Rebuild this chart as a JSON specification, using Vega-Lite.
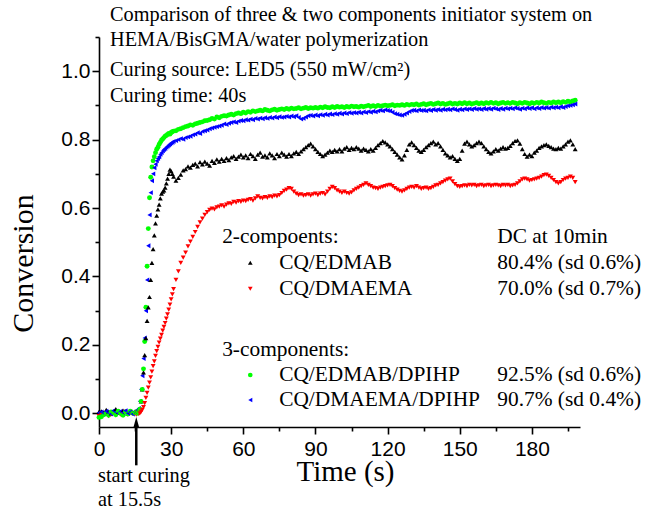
{
"$schema": "https://vega.github.io/schema/vega-lite/v6.json",
"width": 481, "height": 390,
"autosize": {"type": "none"},
"padding": {"left": 99, "top": 37, "right": 68, "bottom": 89},
"background": "white",
"config": {"view": {"stroke": null}, "axis": {"grid": false}},
"resolve": {"axis": {"x": "independent", "y": "independent"}},
"datasets": {
"conv": [
{"t":0,"a":0.004,"b":-0.008,"c":-0.012,"d":0.002},
{"t":1,"a":0.006,"b":-0.004,"c":-0.010,"d":0.004},
{"t":2,"a":0.002,"b":-0.006,"c":-0.004,"d":0.000},
{"t":3,"a":0.010,"b":-0.002,"c":0.000,"d":0.006},
{"t":4,"a":0.004,"b":-0.008,"c":-0.006,"d":0.002},
{"t":5,"a":0.000,"b":-0.004,"c":0.004,"d":-0.002},
{"t":6,"a":0.006,"b":0.000,"c":0.002,"d":0.008},
{"t":7,"a":0.012,"b":-0.006,"c":-0.004,"d":0.004},
{"t":8,"a":0.004,"b":0.002,"c":0.006,"d":0.000},
{"t":9,"a":0.002,"b":-0.004,"c":0.000,"d":0.006},
{"t":10,"a":0.008,"b":-0.002,"c":-0.006,"d":0.002},
{"t":11,"a":0.004,"b":0.004,"c":0.004,"d":0.008},
{"t":12,"a":0.000,"b":-0.004,"c":-0.002,"d":0.000},
{"t":13,"a":0.006,"b":0.002,"c":0.006,"d":0.004},
{"t":14,"a":0.002,"b":-0.002,"c":0.000,"d":-0.002},
{"t":15,"a":0.006,"b":0.000,"c":0.002,"d":0.006},
{"t":15.5,"a":0.004,"b":-0.004,"c":0.004,"d":0.002},
{"t":16,"a":0.008,"b":0.002,"c":0.000,"d":0.008},
{"t":16.5,"a":0.006,"b":-0.002,"c":0.004,"d":0.014},
{"t":17,"a":0.012,"b":0.000,"c":0.012,"d":0.035},
{"t":17.5,"a":0.035,"b":0.004,"c":0.035,"d":0.07},
{"t":18,"a":0.07,"b":0.01,"c":0.07,"d":0.11},
{"t":18.5,"a":0.12,"b":0.018,"c":0.13,"d":0.16},
{"t":19,"a":0.17,"b":0.03,"c":0.21,"d":0.22},
{"t":19.5,"a":0.22,"b":0.045,"c":0.31,"d":0.30},
{"t":20,"a":0.27,"b":0.06,"c":0.43,"d":0.39},
{"t":20.5,"a":0.31,"b":0.075,"c":0.54,"d":0.49},
{"t":21,"a":0.34,"b":0.09,"c":0.63,"d":0.58},
{"t":21.5,"a":0.39,"b":0.105,"c":0.69,"d":0.645},
{"t":22,"a":0.44,"b":0.122,"c":0.72,"d":0.68},
{"t":22.5,"a":0.48,"b":0.138,"c":0.738,"d":0.70},
{"t":23,"a":0.52,"b":0.152,"c":0.75,"d":0.718},
{"t":23.5,"a":0.555,"b":0.168,"c":0.762,"d":0.728},
{"t":24,"a":0.578,"b":0.182,"c":0.772,"d":0.738},
{"t":24.5,"a":0.596,"b":0.194,"c":0.778,"d":0.745},
{"t":25,"a":0.61,"b":0.207,"c":0.786,"d":0.75},
{"t":25.5,"a":0.628,"b":0.218,"c":0.792,"d":0.757},
{"t":26,"a":0.642,"b":0.229,"c":0.798,"d":0.762},
{"t":26.5,"a":0.648,"b":0.242,"c":0.802,"d":0.767},
{"t":27,"a":0.652,"b":0.253,"c":0.806,"d":0.771},
{"t":27.5,"a":0.66,"b":0.264,"c":0.81,"d":0.774},
{"t":28,"a":0.672,"b":0.277,"c":0.812,"d":0.778},
{"t":28.5,"a":0.686,"b":0.289,"c":0.815,"d":0.781},
{"t":29,"a":0.70,"b":0.303,"c":0.818,"d":0.784},
{"t":29.5,"a":0.712,"b":0.318,"c":0.816,"d":0.787},
{"t":30,"a":0.708,"b":0.333,"c":0.821,"d":0.79},
{"t":30.5,"a":0.70,"b":0.348,"c":0.823,"d":0.792},
{"t":31,"a":0.692,"b":0.363,"c":0.825,"d":0.795},
{"t":32,"a":0.68,"b":0.39,"c":0.826,"d":0.797},
{"t":33,"a":0.688,"b":0.415,"c":0.83,"d":0.80},
{"t":34,"a":0.698,"b":0.44,"c":0.832,"d":0.803},
{"t":35,"a":0.71,"b":0.455,"c":0.835,"d":0.801},
{"t":36,"a":0.714,"b":0.47,"c":0.838,"d":0.806},
{"t":37,"a":0.722,"b":0.488,"c":0.84,"d":0.808},
{"t":38,"a":0.718,"b":0.502,"c":0.843,"d":0.81},
{"t":39,"a":0.726,"b":0.516,"c":0.842,"d":0.814},
{"t":40,"a":0.73,"b":0.53,"c":0.846,"d":0.816},
{"t":41,"a":0.722,"b":0.545,"c":0.848,"d":0.82},
{"t":42,"a":0.734,"b":0.558,"c":0.85,"d":0.818},
{"t":43,"a":0.728,"b":0.569,"c":0.852,"d":0.824},
{"t":44,"a":0.736,"b":0.58,"c":0.855,"d":0.826},
{"t":45,"a":0.73,"b":0.588,"c":0.856,"d":0.828},
{"t":46,"a":0.724,"b":0.595,"c":0.858,"d":0.832},
{"t":47,"a":0.738,"b":0.598,"c":0.862,"d":0.834},
{"t":48,"a":0.732,"b":0.596,"c":0.86,"d":0.836},
{"t":49,"a":0.742,"b":0.602,"c":0.866,"d":0.838},
{"t":50,"a":0.736,"b":0.604,"c":0.864,"d":0.84},
{"t":51,"a":0.744,"b":0.608,"c":0.868,"d":0.842},
{"t":52,"a":0.738,"b":0.604,"c":0.87,"d":0.846},
{"t":53,"a":0.746,"b":0.61,"c":0.869,"d":0.844},
{"t":54,"a":0.74,"b":0.614,"c":0.872,"d":0.848},
{"t":55,"a":0.748,"b":0.612,"c":0.874,"d":0.85},
{"t":56,"a":0.752,"b":0.618,"c":0.872,"d":0.852},
{"t":57,"a":0.744,"b":0.616,"c":0.876,"d":0.85},
{"t":58,"a":0.75,"b":0.62,"c":0.878,"d":0.854},
{"t":59,"a":0.756,"b":0.618,"c":0.876,"d":0.856},
{"t":60,"a":0.748,"b":0.622,"c":0.88,"d":0.855},
{"t":61,"a":0.754,"b":0.62,"c":0.878,"d":0.858},
{"t":62,"a":0.746,"b":0.624,"c":0.882,"d":0.857},
{"t":63,"a":0.758,"b":0.626,"c":0.88,"d":0.86},
{"t":64,"a":0.752,"b":0.622,"c":0.884,"d":0.858},
{"t":65,"a":0.744,"b":0.628,"c":0.882,"d":0.862},
{"t":66,"a":0.756,"b":0.634,"c":0.884,"d":0.86},
{"t":67,"a":0.762,"b":0.63,"c":0.886,"d":0.863},
{"t":68,"a":0.75,"b":0.628,"c":0.884,"d":0.861},
{"t":69,"a":0.754,"b":0.632,"c":0.888,"d":0.864},
{"t":70,"a":0.748,"b":0.63,"c":0.886,"d":0.862},
{"t":71,"a":0.76,"b":0.634,"c":0.884,"d":0.865},
{"t":72,"a":0.754,"b":0.632,"c":0.887,"d":0.863},
{"t":73,"a":0.746,"b":0.636,"c":0.889,"d":0.866},
{"t":74,"a":0.758,"b":0.634,"c":0.886,"d":0.864},
{"t":75,"a":0.752,"b":0.638,"c":0.888,"d":0.867},
{"t":76,"a":0.762,"b":0.644,"c":0.89,"d":0.865},
{"t":77,"a":0.756,"b":0.65,"c":0.888,"d":0.866},
{"t":78,"a":0.75,"b":0.654,"c":0.891,"d":0.868},
{"t":79,"a":0.758,"b":0.658,"c":0.889,"d":0.866},
{"t":80,"a":0.752,"b":0.656,"c":0.892,"d":0.869},
{"t":81,"a":0.76,"b":0.648,"c":0.89,"d":0.867},
{"t":82,"a":0.764,"b":0.642,"c":0.891,"d":0.87},
{"t":83,"a":0.758,"b":0.638,"c":0.893,"d":0.865},
{"t":84,"a":0.766,"b":0.64,"c":0.89,"d":0.86},
{"t":85,"a":0.772,"b":0.636,"c":0.892,"d":0.862},
{"t":86,"a":0.778,"b":0.638,"c":0.894,"d":0.866},
{"t":87,"a":0.784,"b":0.64,"c":0.891,"d":0.87},
{"t":88,"a":0.788,"b":0.636,"c":0.893,"d":0.871},
{"t":89,"a":0.78,"b":0.64,"c":0.892,"d":0.869},
{"t":90,"a":0.772,"b":0.642,"c":0.894,"d":0.872},
{"t":91,"a":0.764,"b":0.638,"c":0.892,"d":0.87},
{"t":92,"a":0.758,"b":0.642,"c":0.895,"d":0.873},
{"t":93,"a":0.752,"b":0.644,"c":0.893,"d":0.871},
{"t":94,"a":0.756,"b":0.64,"c":0.896,"d":0.874},
{"t":95,"a":0.762,"b":0.648,"c":0.894,"d":0.872},
{"t":96,"a":0.768,"b":0.656,"c":0.893,"d":0.875},
{"t":97,"a":0.764,"b":0.662,"c":0.896,"d":0.873},
{"t":98,"a":0.77,"b":0.658,"c":0.894,"d":0.876},
{"t":99,"a":0.766,"b":0.652,"c":0.897,"d":0.874},
{"t":100,"a":0.772,"b":0.648,"c":0.895,"d":0.877},
{"t":101,"a":0.766,"b":0.644,"c":0.896,"d":0.875},
{"t":102,"a":0.774,"b":0.648,"c":0.894,"d":0.878},
{"t":103,"a":0.778,"b":0.644,"c":0.897,"d":0.876},
{"t":104,"a":0.77,"b":0.642,"c":0.895,"d":0.879},
{"t":105,"a":0.776,"b":0.646,"c":0.898,"d":0.877},
{"t":106,"a":0.772,"b":0.652,"c":0.896,"d":0.879},
{"t":107,"a":0.778,"b":0.656,"c":0.897,"d":0.878},
{"t":108,"a":0.774,"b":0.66,"c":0.895,"d":0.88},
{"t":109,"a":0.768,"b":0.664,"c":0.898,"d":0.878},
{"t":110,"a":0.774,"b":0.668,"c":0.896,"d":0.881},
{"t":111,"a":0.77,"b":0.672,"c":0.898,"d":0.879},
{"t":112,"a":0.766,"b":0.668,"c":0.9,"d":0.882},
{"t":113,"a":0.772,"b":0.664,"c":0.897,"d":0.88},
{"t":114,"a":0.768,"b":0.66,"c":0.899,"d":0.883},
{"t":115,"a":0.776,"b":0.658,"c":0.897,"d":0.881},
{"t":116,"a":0.784,"b":0.656,"c":0.9,"d":0.884},
{"t":117,"a":0.79,"b":0.66,"c":0.898,"d":0.886},
{"t":118,"a":0.796,"b":0.662,"c":0.899,"d":0.884},
{"t":119,"a":0.792,"b":0.664,"c":0.901,"d":0.887},
{"t":120,"a":0.786,"b":0.666,"c":0.899,"d":0.885},
{"t":121,"a":0.78,"b":0.668,"c":0.9,"d":0.884},
{"t":122,"a":0.772,"b":0.664,"c":0.902,"d":0.88},
{"t":123,"a":0.764,"b":0.658,"c":0.899,"d":0.876},
{"t":124,"a":0.756,"b":0.654,"c":0.901,"d":0.874},
{"t":125,"a":0.748,"b":0.65,"c":0.9,"d":0.872},
{"t":126,"a":0.742,"b":0.648,"c":0.902,"d":0.871},
{"t":127,"a":0.754,"b":0.652,"c":0.9,"d":0.874},
{"t":128,"a":0.77,"b":0.656,"c":0.903,"d":0.878},
{"t":129,"a":0.786,"b":0.66,"c":0.901,"d":0.882},
{"t":130,"a":0.792,"b":0.662,"c":0.903,"d":0.885},
{"t":131,"a":0.784,"b":0.66,"c":0.902,"d":0.886},
{"t":132,"a":0.776,"b":0.664,"c":0.904,"d":0.884},
{"t":133,"a":0.768,"b":0.66,"c":0.901,"d":0.887},
{"t":134,"a":0.764,"b":0.656,"c":0.903,"d":0.885},
{"t":135,"a":0.77,"b":0.658,"c":0.905,"d":0.886},
{"t":136,"a":0.778,"b":0.66,"c":0.902,"d":0.884},
{"t":137,"a":0.784,"b":0.656,"c":0.904,"d":0.887},
{"t":138,"a":0.79,"b":0.658,"c":0.906,"d":0.885},
{"t":139,"a":0.794,"b":0.662,"c":0.903,"d":0.888},
{"t":140,"a":0.786,"b":0.666,"c":0.905,"d":0.886},
{"t":141,"a":0.79,"b":0.668,"c":0.907,"d":0.888},
{"t":142,"a":0.78,"b":0.672,"c":0.904,"d":0.886},
{"t":143,"a":0.77,"b":0.676,"c":0.906,"d":0.889},
{"t":144,"a":0.76,"b":0.68,"c":0.903,"d":0.887},
{"t":145,"a":0.754,"b":0.684,"c":0.905,"d":0.889},
{"t":146,"a":0.748,"b":0.686,"c":0.907,"d":0.887},
{"t":147,"a":0.752,"b":0.678,"c":0.904,"d":0.89},
{"t":148,"a":0.744,"b":0.67,"c":0.906,"d":0.888},
{"t":149,"a":0.738,"b":0.664,"c":0.904,"d":0.886},
{"t":150,"a":0.744,"b":0.662,"c":0.907,"d":0.889},
{"t":151,"a":0.768,"b":0.664,"c":0.905,"d":0.887},
{"t":152,"a":0.788,"b":0.666,"c":0.908,"d":0.89},
{"t":153,"a":0.794,"b":0.664,"c":0.905,"d":0.888},
{"t":154,"a":0.786,"b":0.668,"c":0.907,"d":0.89},
{"t":155,"a":0.78,"b":0.666,"c":0.904,"d":0.888},
{"t":156,"a":0.784,"b":0.668,"c":0.906,"d":0.891},
{"t":157,"a":0.79,"b":0.664,"c":0.908,"d":0.889},
{"t":158,"a":0.794,"b":0.666,"c":0.905,"d":0.89},
{"t":159,"a":0.79,"b":0.668,"c":0.907,"d":0.888},
{"t":160,"a":0.78,"b":0.664,"c":0.905,"d":0.891},
{"t":161,"a":0.772,"b":0.666,"c":0.908,"d":0.889},
{"t":162,"a":0.764,"b":0.668,"c":0.906,"d":0.891},
{"t":163,"a":0.76,"b":0.664,"c":0.909,"d":0.889},
{"t":164,"a":0.766,"b":0.666,"c":0.906,"d":0.892},
{"t":165,"a":0.772,"b":0.668,"c":0.908,"d":0.89},
{"t":166,"a":0.768,"b":0.666,"c":0.905,"d":0.888},
{"t":167,"a":0.774,"b":0.664,"c":0.907,"d":0.891},
{"t":168,"a":0.778,"b":0.668,"c":0.909,"d":0.889},
{"t":169,"a":0.774,"b":0.666,"c":0.906,"d":0.892},
{"t":170,"a":0.776,"b":0.668,"c":0.908,"d":0.89},
{"t":171,"a":0.782,"b":0.664,"c":0.906,"d":0.892},
{"t":172,"a":0.79,"b":0.666,"c":0.909,"d":0.89},
{"t":173,"a":0.796,"b":0.668,"c":0.907,"d":0.893},
{"t":174,"a":0.798,"b":0.672,"c":0.905,"d":0.891},
{"t":175,"a":0.788,"b":0.678,"c":0.908,"d":0.889},
{"t":176,"a":0.772,"b":0.684,"c":0.906,"d":0.892},
{"t":177,"a":0.758,"b":0.686,"c":0.909,"d":0.89},
{"t":178,"a":0.75,"b":0.684,"c":0.907,"d":0.893},
{"t":179,"a":0.756,"b":0.68,"c":0.905,"d":0.891},
{"t":180,"a":0.752,"b":0.682,"c":0.908,"d":0.893},
{"t":181,"a":0.762,"b":0.684,"c":0.906,"d":0.89},
{"t":182,"a":0.768,"b":0.686,"c":0.909,"d":0.893},
{"t":183,"a":0.776,"b":0.688,"c":0.907,"d":0.891},
{"t":184,"a":0.78,"b":0.692,"c":0.91,"d":0.894},
{"t":185,"a":0.784,"b":0.696,"c":0.908,"d":0.892},
{"t":186,"a":0.786,"b":0.698,"c":0.906,"d":0.894},
{"t":187,"a":0.782,"b":0.694,"c":0.909,"d":0.892},
{"t":188,"a":0.778,"b":0.688,"c":0.907,"d":0.895},
{"t":189,"a":0.774,"b":0.682,"c":0.91,"d":0.893},
{"t":190,"a":0.772,"b":0.676,"c":0.908,"d":0.895},
{"t":191,"a":0.776,"b":0.672,"c":0.91,"d":0.893},
{"t":192,"a":0.774,"b":0.676,"c":0.908,"d":0.896},
{"t":193,"a":0.78,"b":0.682,"c":0.911,"d":0.894},
{"t":194,"a":0.786,"b":0.686,"c":0.909,"d":0.897},
{"t":195,"a":0.794,"b":0.688,"c":0.912,"d":0.899},
{"t":196,"a":0.798,"b":0.692,"c":0.91,"d":0.9},
{"t":197,"a":0.786,"b":0.688,"c":0.913,"d":0.902},
{"t":198,"a":0.772,"b":0.676,"c":0.915,"d":0.904}
]
},
"layer": [
{
"data": {"name": "conv"},
"transform": [{"fold": ["a","b","c","d"], "as": ["s","v"]}],
"mark": {"type": "point", "filled": true, "size": 24, "opacity": 1, "strokeWidth": 0},
"encoding": {
"x": {"field": "t", "type": "quantitative", "scale": {"domain": [0,200], "nice": false, "zero": false},
 "axis": {"orient": "bottom", "values": [0,30,60,90,120,150,180], "title": "Time (s)", "domainColor": "black", "domainWidth": 1.6, "tickColor": "black", "tickWidth": 1.6, "tickSize": 7, "labelFont": "Liberation Sans", "labelFontSize": 21, "labelColor": "black", "labelPadding": 4, "labelFlush": false, "labelOverlap": false, "titleFont": "Liberation Serif", "titleFontSize": 29, "titleFontWeight": "normal", "titleColor": "black", "titleX": 246, "titleY": 53, "titleAlign": "center", "titleBaseline": "alphabetic", "grid": false}},
"y": {"field": "v", "type": "quantitative", "scale": {"domain": [-0.04,1.1], "nice": false, "zero": false},
 "axis": {"orient": "left", "values": [0,0.2,0.4,0.6,0.8,1.0], "format": ".1f", "title": "Conversion", "domainColor": "black", "domainWidth": 1.6, "tickColor": "black", "tickWidth": 1.6, "tickSize": 7, "labelFont": "Liberation Sans", "labelFontSize": 21, "labelColor": "black", "labelPadding": 2, "labelFlush": false, "labelOverlap": false, "titleFont": "Liberation Serif", "titleFontSize": 30, "titleFontWeight": "normal", "titleColor": "black", "titleAngle": -90, "titleX": -67, "titleY": 226, "titleAlign": "center", "titleBaseline": "alphabetic", "grid": false}},
"shape": {"field": "s", "type": "nominal", "scale": {"domain": ["a","b","c","d"], "range": ["triangle-up","triangle-down","circle","triangle-left"]}, "legend": null},
"color": {"field": "s", "type": "nominal", "scale": {"domain": ["a","b","c","d"], "range": ["#000000","#ff0000","#00ff00","#0000ff"]}, "legend": null}
}
},
{
"data": {"values": [{"t":62.9,"v":0.44,"s":"a"},{"t":62.9,"v":0.364,"s":"b"},{"t":62.9,"v":0.112,"s":"c"},{"t":62.9,"v":0.039,"s":"d"}]},
"mark": {"type": "point", "filled": true, "size": 22, "opacity": 1, "strokeWidth": 0},
"encoding": {
"x": {"field": "t", "type": "quantitative", "scale": {"domain": [0,200], "nice": false, "zero": false},
 "axis": {"orient": "bottom", "values": [15,45,75,105,135,165,195], "labels": false, "domain": false, "title": null, "tickColor": "black", "tickWidth": 1.6, "tickSize": 4, "grid": false}},
"y": {"field": "v", "type": "quantitative", "scale": {"domain": [-0.04,1.1], "nice": false, "zero": false},
 "axis": {"orient": "left", "values": [0.1,0.3,0.5,0.7,0.9,1.1], "labels": false, "domain": false, "title": null, "tickColor": "black", "tickWidth": 1.6, "tickSize": 4, "grid": false}},
"shape": {"field": "s", "type": "nominal", "scale": {"domain": ["a","b","c","d"], "range": ["triangle-up","triangle-down","circle","triangle-left"]}, "legend": null},
"color": {"field": "s", "type": "nominal", "scale": {"domain": ["a","b","c","d"], "range": ["#000000","#ff0000","#00ff00","#0000ff"]}, "legend": null}
}
},
{
"data": {"values": [
 {"t":4.6,"v":1.164,"label":"Comparison of three & two components initiator system on"},
 {"t":4.6,"v":1.091,"label":"HEMA/BisGMA/water polymerization"},
 {"t":4.6,"v":1.003,"label":"Curing source: LED5 (550 mW/cm²)"},
 {"t":4.6,"v":0.928,"label":"Curing time: 40s"}
]},
"mark": {"type": "text", "align": "left", "baseline": "middle", "font": "Liberation Serif", "fontSize": 20.3, "color": "black"},
"encoding": {
"x": {"field": "t", "type": "quantitative", "scale": {"domain": [0,200], "nice": false, "zero": false}, "axis": null},
"y": {"field": "v", "type": "quantitative", "scale": {"domain": [-0.04,1.1], "nice": false, "zero": false}, "axis": null},
"text": {"field": "label"}
}
},
{
"data": {"values": [
 {"t":51.2,"v":0.516,"label":"2-compoents:"},
 {"t":74.9,"v":0.44,"label":"CQ/EDMAB"},
 {"t":74.9,"v":0.364,"label":"CQ/DMAEMA"},
 {"t":51.2,"v":0.185,"label":"3-components:"},
 {"t":74.9,"v":0.112,"label":"CQ/EDMAB/DPIHP"},
 {"t":74.9,"v":0.039,"label":"CQ/DMAEMA/DPIHP"},
 {"t":165.6,"v":0.516,"label":"DC at 10min"},
 {"t":165.6,"v":0.44,"label":"80.4% (sd 0.6%)"},
 {"t":165.6,"v":0.364,"label":"70.0% (sd 0.7%)"},
 {"t":165.6,"v":0.112,"label":"92.5% (sd 0.6%)"},
 {"t":165.6,"v":0.039,"label":"90.7% (sd 0.4%)"}
]},
"mark": {"type": "text", "align": "left", "baseline": "middle", "font": "Liberation Serif", "fontSize": 21.4, "color": "black"},
"encoding": {
"x": {"field": "t", "type": "quantitative", "scale": {"domain": [0,200], "nice": false, "zero": false}, "axis": null},
"y": {"field": "v", "type": "quantitative", "scale": {"domain": [-0.04,1.1], "nice": false, "zero": false}, "axis": null},
"text": {"field": "label"}
}
},
{
"data": {"values": [
 {"t":-0.4,"v":-0.183,"label":"start curing"},
 {"t":-0.4,"v":-0.253,"label":"at 15.5s"}
]},
"mark": {"type": "text", "align": "left", "baseline": "middle", "font": "Liberation Serif", "fontSize": 20.3, "color": "black"},
"encoding": {
"x": {"field": "t", "type": "quantitative", "scale": {"domain": [0,200], "nice": false, "zero": false}, "axis": null},
"y": {"field": "v", "type": "quantitative", "scale": {"domain": [-0.04,1.1], "nice": false, "zero": false}, "axis": null},
"text": {"field": "label"}
}
},
{
"data": {"values": [{"t":15.5,"v":-0.152,"v2":-0.03}]},
"mark": {"type": "rule", "color": "black", "strokeWidth": 2.5},
"encoding": {
"x": {"field": "t", "type": "quantitative", "scale": {"domain": [0,200], "nice": false, "zero": false}, "axis": null},
"y": {"field": "v", "type": "quantitative", "scale": {"domain": [-0.04,1.1], "nice": false, "zero": false}, "axis": null},
"y2": {"field": "v2"}
}
},
{
"data": {"values": [{"t":15.5,"v":-0.027}]},
"mark": {"type": "point", "shape": "M0,-1L0.55,1L-0.55,1Z", "size": 121, "filled": true, "color": "black", "opacity": 1, "strokeWidth": 0},
"encoding": {
"x": {"field": "t", "type": "quantitative", "scale": {"domain": [0,200], "nice": false, "zero": false}, "axis": null},
"y": {"field": "v", "type": "quantitative", "scale": {"domain": [-0.04,1.1], "nice": false, "zero": false}, "axis": null}
}
}
]
}
